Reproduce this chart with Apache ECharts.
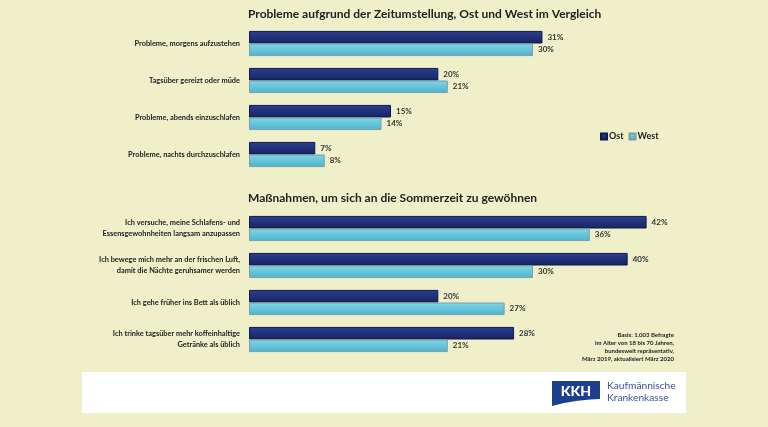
<!DOCTYPE html>
<html>
<head>
<meta charset="utf-8">
<script src="https://cdn.jsdelivr.net/npm/echarts@6/dist/echarts.min.js"></script>
<style>
html,body{margin:0;padding:0;background:#EFF0CA;}
#c{width:768px;height:427px;}
</style>
</head>
<body>
<div id="c"></div>
<script>
var title1 = 'Probleme aufgrund der Zeitumstellung, Ost und West im Vergleich';
var title2 = 'Maßnahmen, um sich an die Sommerzeit zu gewöhnen';
var cats1 = ['Probleme, morgens aufzustehen', 'Tagsüber gereizt oder müde', 'Probleme, abends einzuschlafen', 'Probleme, nachts durchzuschlafen'];
var ost1 = [31, 20, 15, 7];
var west1 = [30, 21, 14, 8];
var cats2 = ['Ich versuche, meine Schlafens- und\nEssensgewohnheiten langsam anzupassen', 'Ich bewege mich mehr an der frischen Luft,\ndamit die Nächte geruhsamer werden', 'Ich gehe früher ins Bett als üblich', 'Ich trinke tagsüber mehr koffeinhaltige\nGetränke als üblich'];
var ost2 = [42, 40, 20, 28];
var west2 = [36, 30, 27, 21];
var basisText = 'Basis: 1.003 Befragte\nim Alter von 18 bis 70 Jahren,\nbundesweit repräsentativ,\nMärz 2019, aktualisiert März 2020';

var FONT = 'Lato';
var ostColor = new echarts.graphic.LinearGradient(0,0,0,1,[{offset:0,color:'#2B3F93'},{offset:1,color:'#16245F'}]);
var westColor = new echarts.graphic.LinearGradient(0,0,0,1,[{offset:0,color:'#7FD6E8'},{offset:1,color:'#4DB3CB'}]);

function mkSeries(name, data, idx, color, border) {
  return {
    name: name, type: 'bar', xAxisIndex: idx, yAxisIndex: idx, data: data,
    barGap: '0%', barCategoryGap: '32%',
    itemStyle: {color: color, borderColor: border, borderWidth: 1},
    label: {show: true, position: 'right', distance: 5, formatter: '{c}%', fontFamily: FONT, fontWeight: 'bold', fontSize: 8, color: '#333'},
    animation: false
  };
}

var chart = echarts.init(document.getElementById('c'));
var yLab = {fontFamily: FONT, fontWeight: 'bold', fontSize: 7.4, color: '#222', margin: 9, lineHeight: 11, align: 'right'};
chart.setOption({
  backgroundColor: '#EFF0CA',
  animation: false,
  title: [
    {text: title1, left: 243, top: 3, textStyle: {fontFamily: FONT, fontWeight: 'bold', fontSize: 12, color: '#222'}},
    {text: title2, left: 243, top: 187, textStyle: {fontFamily: FONT, fontWeight: 'bold', fontSize: 12, color: '#222'}}
  ],
  legend: {
    data: ['Ost', 'West'], left: 595, top: 127, icon: 'rect', itemWidth: 6, itemHeight: 6, itemGap: 5,
    textStyle: {fontFamily: FONT, fontWeight: 'bold', fontSize: 9, color: '#222', padding: [0,0,0,-3]}
  },
  grid: [
    {left: 249, width: 426, top: 25, height: 148},
    {left: 249, width: 426, top: 210, height: 148}
  ],
  xAxis: [
    {gridIndex: 0, type: 'value', min: 0, max: 45, show: false},
    {gridIndex: 1, type: 'value', min: 0, max: 45, show: false}
  ],
  yAxis: [
    {gridIndex: 0, type: 'category', data: cats1, inverse: true, axisLine: {show: false}, axisTick: {show: false}, axisLabel: yLab},
    {gridIndex: 1, type: 'category', data: cats2, inverse: true, axisLine: {show: false}, axisTick: {show: false}, axisLabel: yLab}
  ],
  series: [
    mkSeries('Ost', ost1, 0, ostColor, '#0F1A4A'),
    mkSeries('West', west1, 0, westColor, '#7D9EA8'),
    mkSeries('Ost', ost2, 1, ostColor, '#0F1A4A'),
    mkSeries('West', west2, 1, westColor, '#7D9EA8')
  ],
  graphic: [
    {type: 'text', x: 674, y: 331, style: {text: basisText, fontFamily: FONT, fontWeight: 'bold', fontSize: 6, lineHeight: 8, fill: '#222', align: 'right'}},
    {type: 'rect', shape: {x: 82, y: 372, width: 604, height: 41}, style: {fill: '#FFFFFF'}},
    {type: 'polygon', shape: {points: [[552,381],[600,381],[600,399],[590,399.5],[576,401],[564,403],[552,406]]}, style: {fill: '#1E3F8E'}},
    {type: 'text', x: 576, y: 391, style: {text: 'KKH', fontFamily: FONT, fontWeight: 900, fontSize: 14, fill: '#FFFFFF', align: 'center', verticalAlign: 'middle'}},
    {type: 'text', x: 607, y: 380, style: {text: 'Kaufmännische\nKrankenkasse', fontFamily: FONT, fontSize: 10.2, lineHeight: 12, fill: '#3F4F96'}}
  ]
});
</script>
</body>
</html>
